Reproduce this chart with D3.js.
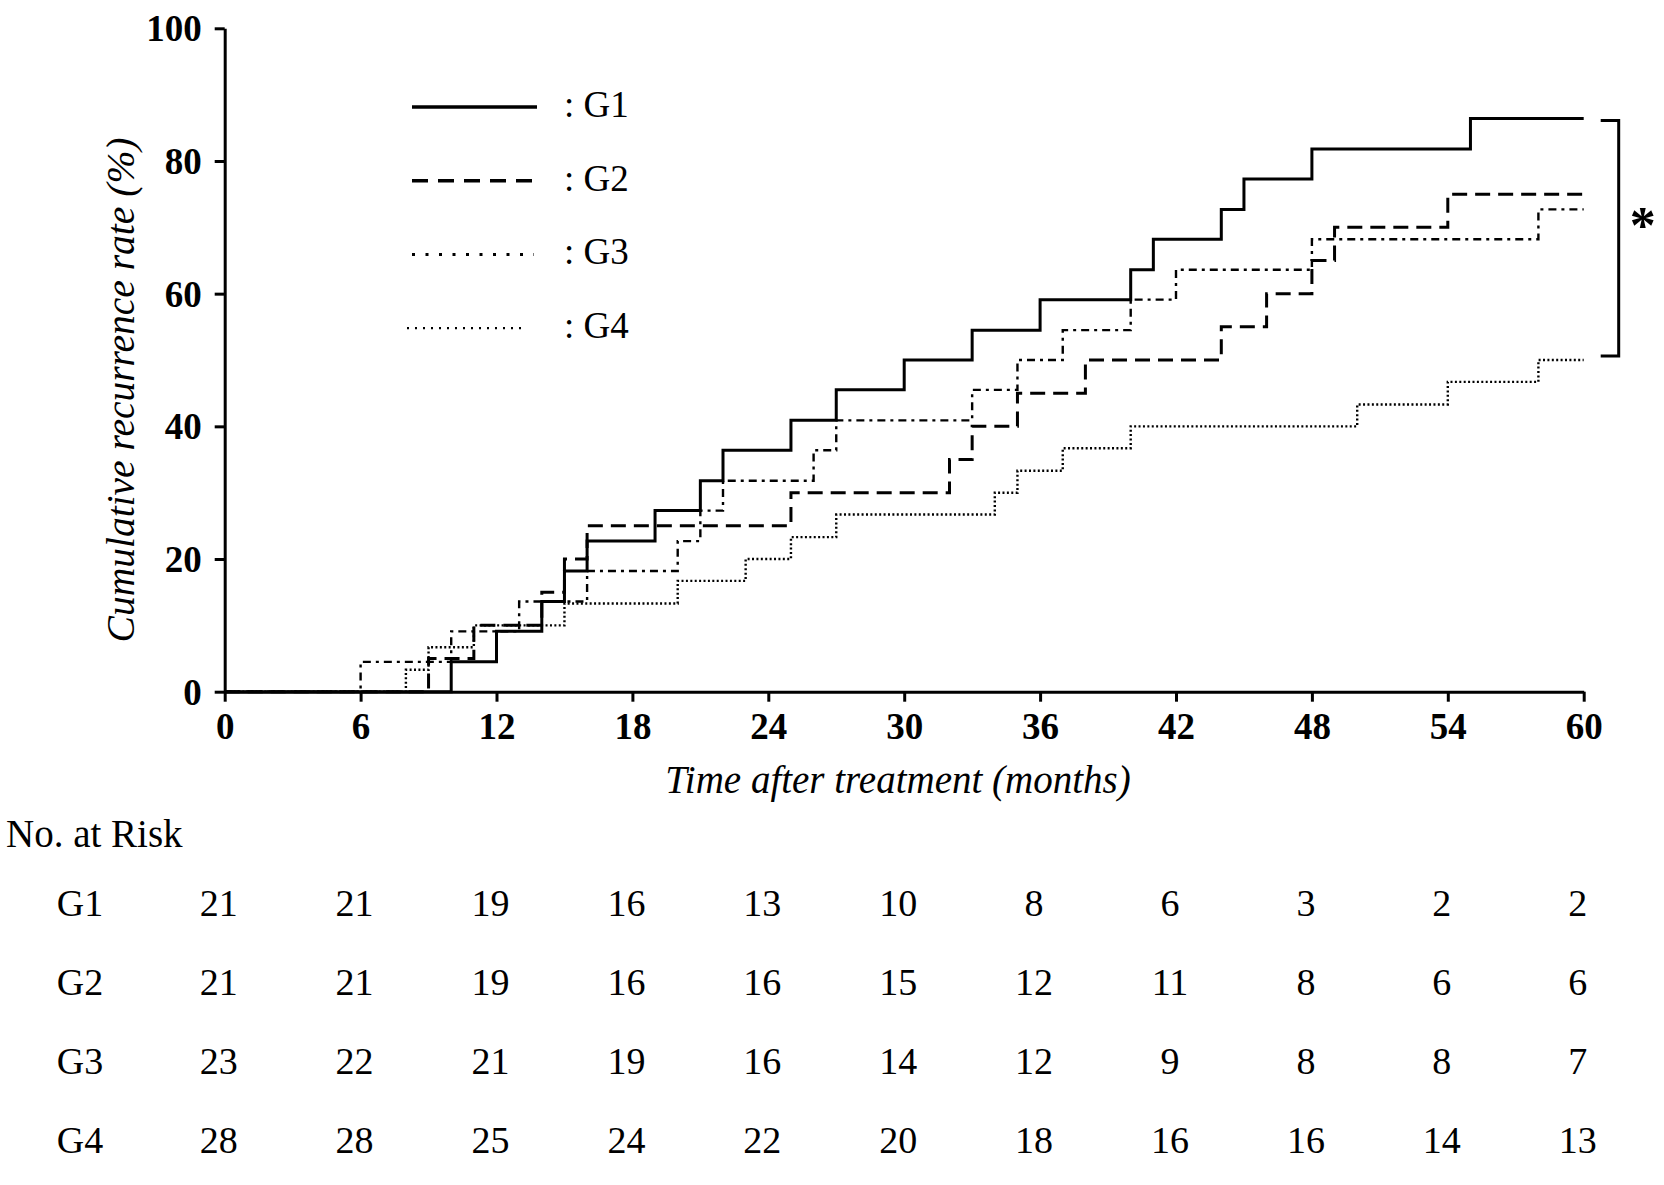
<!DOCTYPE html>
<html>
<head>
<meta charset="utf-8">
<script src="https://cdn.jsdelivr.net/npm/d3@7"></script>
<style>
  body { margin: 0; background: #fff; }
  svg { display: block; }
  text { font-family: "Liberation Serif", "Times New Roman", serif; fill: #000; }
</style>
</head>
<body>
<svg id="chart" width="1664" height="1185"></svg>
<script>
// step data (months, cumulative %)
var g1_times = [10, 12, 14, 15, 16, 19, 21, 22, 25, 27, 30, 33, 36, 40, 41, 44, 45, 48, 55]
var g1_rates = [4.5, 9.1, 13.6, 18.2, 22.7, 27.3, 31.8, 36.4, 40.9, 45.5, 50, 54.5, 59.1, 63.6, 68.2, 72.7, 77.3, 81.8, 86.4]
var g2_times = [9, 11, 14, 15, 16, 25, 32, 33, 35, 38, 44, 46, 48, 49, 54]
var g2_rates = [5, 10, 15, 20, 25, 30, 35, 40, 45, 50, 55, 60, 65, 70, 75]
var g3_times = [6, 10, 13, 16, 20, 21, 22, 26, 27, 33, 35, 37, 40, 42, 48, 58]
var g3_rates = [4.5, 9.1, 13.6, 18.2, 22.7, 27.3, 31.8, 36.4, 40.9, 45.5, 50, 54.5, 59.1, 63.6, 68.2, 72.7]
var g4_times = [8, 9, 11, 15, 20, 23, 25, 27, 34, 35, 37, 40, 50, 54, 58]
var g4_rates = [3.3, 6.7, 10, 13.3, 16.7, 20, 23.3, 26.7, 30, 33.3, 36.7, 40, 43.3, 46.7, 50]

var group_names = ["G1", "G2", "G3", "G4"]
var x_ticks = [0, 6, 12, 18, 24, 30, 36, 42, 48, 54, 60]
var y_ticks = [0, 20, 40, 60, 80, 100]

// number at risk, one value per x tick
var risk_g1 = [21, 21, 19, 16, 13, 10, 8, 6, 3, 2, 2]
var risk_g2 = [21, 21, 19, 16, 16, 15, 12, 11, 8, 6, 6]
var risk_g3 = [23, 22, 21, 19, 16, 14, 12, 9, 8, 8, 7]
var risk_g4 = [28, 28, 25, 24, 22, 20, 18, 16, 16, 14, 13]

var svg = d3.select("#chart")
svg.append("rect").attr("width", 1664).attr("height", 1185).attr("fill", "#fff")

var x_scale = d3.scaleLinear().domain([0, 60]).range([224.7, 1583.7]),
    y_scale = d3.scaleLinear().domain([0, 100]).range([691.7, 28.3])

// line styles: plot and legend
var plot_dash = [null, "15,8", "8,5,3,5", "2,2.4"],
    plot_width = [3, 3, 2.4, 2.4],
    legend_dash = [null, "16,10", "3,10.5", "2,6"],
    legend_width = [3.6, 3.6, 3, 2.2]

var groups = [
  {times: g1_times, rates: g1_rates},
  {times: g2_times, rates: g2_rates},
  {times: g3_times, rates: g3_rates},
  {times: g4_times, rates: g4_rates}
]

// axes
var x_axis = d3.axisBottom(x_scale).tickValues(x_ticks).tickSize(10).tickSizeOuter(0).tickPadding(9)
var y_axis = d3.axisLeft(y_scale).tickValues(y_ticks).tickSize(10).tickSizeOuter(0).tickPadding(13)

var gx = svg.append("g").attr("transform", "translate(0," + y_scale(0) + ")").call(x_axis)
var gy = svg.append("g").attr("transform", "translate(" + x_scale(0) + ",0)").call(y_axis)

;[gx, gy].forEach(function (g) {
  g.selectAll("path, line").attr("stroke", "#000").attr("stroke-width", 3)
  g.selectAll("text")
    .style("font-family", "'Liberation Serif', serif")
    .style("font-weight", "bold")
    .style("font-size", "37px")
    .attr("fill", "#000")
})
gx.selectAll("text").attr("dy", "0.76em")
gy.selectAll("text").attr("dy", "0.34em")

// axis titles
svg.append("text")
  .attr("x", 898).attr("y", 793)
  .attr("text-anchor", "middle")
  .style("font-style", "italic")
  .style("font-size", "39px")
  .text("Time after treatment (months)")

svg.append("text")
  .attr("transform", "translate(134,390) rotate(-90)")
  .attr("text-anchor", "middle")
  .style("font-style", "italic")
  .style("font-size", "39.5px")
  .text("Cumulative recurrence rate (%)")

// step curves
var step_line = d3.line()
  .x(d => x_scale(d[0]))
  .y(d => y_scale(d[1]))
  .curve(d3.curveStepAfter)

groups.forEach(function (grp, i) {
  var pts = [[0, 0]]
  for (var j = 0; j < grp.times.length; j++) pts.push([grp.times[j], grp.rates[j]])
  pts.push([60, grp.rates[grp.rates.length - 1]])
  svg.append("path")
    .datum(pts)
    .attr("d", step_line)
    .attr("fill", "none")
    .attr("stroke", "#000")
    .attr("stroke-width", plot_width[i])
    .attr("stroke-dasharray", plot_dash[i])
})

// legend
var legend = svg.selectAll(".legend_item")
  .data(group_names)
  .enter()
  .append("g")
  .attr("class", "legend_item")
  .attr("transform", (d, i) => "translate(0," + (107 + i * 73.7) + ")")

legend.append("line")
  .attr("x1", (d, i) => i == 3 ? 407 : 412)
  .attr("x2", (d, i) => i == 0 ? 537 : i == 1 ? 542 : i == 2 ? 534 : 527)
  .attr("stroke", "#000")
  .attr("stroke-width", (d, i) => legend_width[i])
  .attr("stroke-dasharray", (d, i) => legend_dash[i])

legend.append("text")
  .attr("x", 564).attr("y", 10)
  .style("font-size", "37px")
  .text(d => ": " + d)

// significance bracket between G1 and G4 end values
var br_x = x_scale(60) + 35,
    br_top = y_scale(g1_rates[g1_rates.length - 1]) + 2,
    br_bot = y_scale(g4_rates[g4_rates.length - 1]) - 4
svg.append("path")
  .attr("d", "M" + (br_x - 18) + "," + br_top + "H" + br_x + "V" + br_bot + "H" + (br_x - 18))
  .attr("fill", "none")
  .attr("stroke", "#000")
  .attr("stroke-width", 3)

svg.append("text")
  .attr("x", br_x + 24).attr("y", (br_top + br_bot) / 2 + 5)
  .attr("text-anchor", "middle")
  .style("font-size", "52px")
  .style("font-weight", "bold")
  .text("*")

// number at risk table
svg.append("text")
  .attr("x", 6).attr("y", 847)
  .style("font-size", "39px")
  .text("No. at Risk")

var risk_rows = [risk_g1, risk_g2, risk_g3, risk_g4],
    row_y = d3.scaleLinear().domain([0, 3]).range([916, 1153])

risk_rows.forEach(function (row, r) {
  svg.append("text")
    .attr("x", 80).attr("y", row_y(r))
    .attr("text-anchor", "middle")
    .style("font-size", "38px")
    .text(group_names[r])

  svg.selectAll(".risk_" + r)
    .data(row)
    .enter()
    .append("text")
    .attr("class", "risk_" + r)
    .attr("x", (d, i) => x_scale(x_ticks[i]) - 6)
    .attr("y", row_y(r))
    .attr("text-anchor", "middle")
    .style("font-size", "38px")
    .text(d => d)
})
</script>
</body>
</html>
